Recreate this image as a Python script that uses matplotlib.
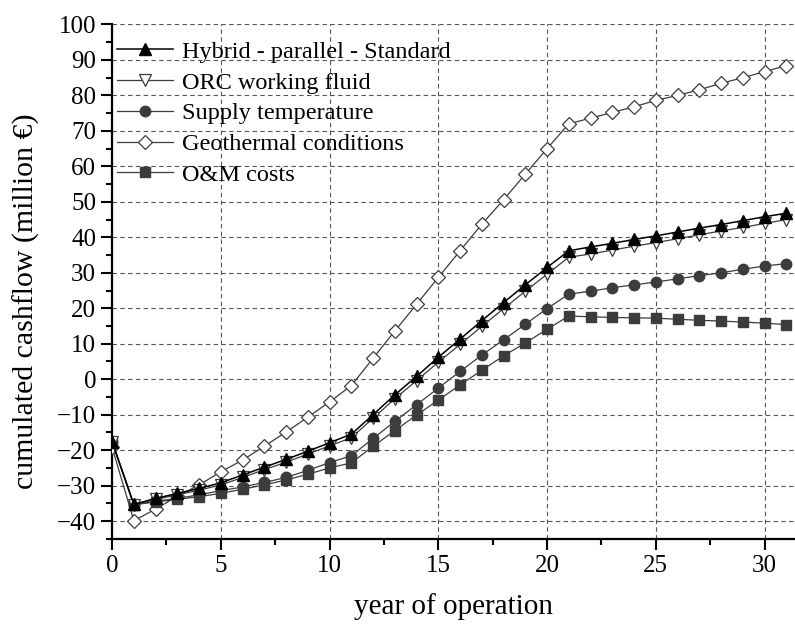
import matplotlib
matplotlib.use('Agg')
from matplotlib import pyplot as plt
from matplotlib.ticker import MultipleLocator
import numpy as np

years = list(range(32))

hybrid = [-17.6, -35.3, -33.6, -32.2, -30.8, -29.2, -27.0, -24.8, -22.6, -20.3,
          -17.9, -15.5, -10.0, -4.4, 0.8, 6.2, 11.3, 16.5, 21.6, 26.6,
          31.5, 36.2, 37.3, 38.3, 39.4, 40.4, 41.5, 42.6, 43.6, 44.7, 45.8, 46.8]
orc = [-17.6, -35.4, -33.9, -32.6, -31.3, -29.8, -27.7, -25.5, -23.4, -21.1,
       -18.8, -16.5, -11.0, -5.5, -0.4, 4.8, 9.8, 14.9, 19.9, 24.8,
       29.6, 34.4, 35.3, 36.4, 37.5, 38.5, 39.6, 40.7, 41.8, 42.8, 43.9, 45.0]
supply = [-17.6, -35.4, -34.4, -33.6, -32.6, -31.4, -30.4, -29.1, -27.7, -25.7,
          -23.5, -21.6, -16.7, -11.9, -7.2, -2.5, 2.2, 6.8, 11.1, 15.5,
          19.9, 24.0, 24.8, 25.8, 26.6, 27.4, 28.3, 29.2, 30.0, 31.0, 31.9, 32.6]
geo = [-19.2, -39.9, -36.6, -33.0, -29.8, -26.1, -22.8, -18.9, -14.9, -10.7,
       -6.4, -1.8, 5.9, 13.6, 21.1, 28.7, 36.2, 43.7, 50.6, 57.8,
       65.0, 72.0, 73.6, 75.2, 76.8, 78.6, 80.0, 81.6, 83.4, 85.0, 86.7, 88.4]
om = [-17.6, -35.4, -34.6, -33.9, -33.1, -32.2, -31.0, -29.8, -28.4, -26.8,
      -25.0, -23.6, -18.9, -14.5, -10.1, -5.9, -1.6, 2.5, 6.6, 10.2,
      14.1, 17.8, 17.6, 17.4, 17.3, 17.2, 16.9, 16.6, 16.4, 16.1, 15.8, 15.4]

labels = ['Hybrid - parallel - Standard', 'ORC working fluid', 'Supply temperature',
          'Geothermal conditions', 'O&M costs']

plt.rcParams['font.family'] = ['Liberation Serif', 'DejaVu Serif']

fig = plt.figure(figsize=(7.95, 6.28), dpi=100)
ax = fig.add_axes([0.141, 0.142, 0.859, 0.819])

dark = '#3c3c3c'
ax.plot(years, geo, color=dark, lw=0.9, marker='D', ms=7, mfc='white', mec=dark, mew=0.9,
        label=labels[3], zorder=3)
ax.plot(years, om, color=dark, lw=0.9, marker='s', ms=6.5, mfc=dark, mec=dark,
        label=labels[4], zorder=3)
ax.plot(years, supply, color=dark, lw=0.9, marker='o', ms=7.5, mfc=dark, mec=dark,
        label=labels[2], zorder=3)
ax.plot(years, orc, color=dark, lw=0.9, marker='v', ms=9, mfc='white', mec=dark, mew=0.9,
        label=labels[1], zorder=4)
ax.plot(years, hybrid, color='black', lw=1.1, marker='^', ms=8, mfc='black', mec='black',
        label=labels[0], zorder=5)

ax.set_xlim(0, 31.4)
ax.set_ylim(-45, 100)
ax.xaxis.set_major_locator(MultipleLocator(5))
ax.xaxis.set_minor_locator(MultipleLocator(2.5))
ax.yaxis.set_major_locator(MultipleLocator(10))
ax.yaxis.set_minor_locator(MultipleLocator(5))

ax.spines['top'].set_visible(False)
ax.spines['right'].set_visible(False)
ax.spines['left'].set_linewidth(1.6)
ax.spines['bottom'].set_linewidth(1.6)
ax.tick_params(which='major', length=8, width=1.5, direction='out', labelsize=18)
ax.tick_params(which='minor', length=4, width=1.5, direction='out')

ax.grid(True, which='major', color='#555555', linestyle=(0, (4, 3)), lw=0.8)
ax.set_axisbelow(True)

ax.set_xlabel('year of operation', fontsize=21, labelpad=12)
ax.set_ylabel('cumulated cashflow (million €)', fontsize=21.5)
ax.yaxis.set_label_coords(-0.105, 0.463)

h, l = ax.get_legend_handles_labels()
order = [l.index(s) for s in labels]
ax.legend([h[i] for i in order], [l[i] for i in order], loc='upper left',
          bbox_to_anchor=(-0.007, 0.987), borderaxespad=0, frameon=False,
          fontsize=17.5, handlelength=2.3, handletextpad=0.37, labelspacing=0.36)

fig.savefig('out.png', dpi=100)
